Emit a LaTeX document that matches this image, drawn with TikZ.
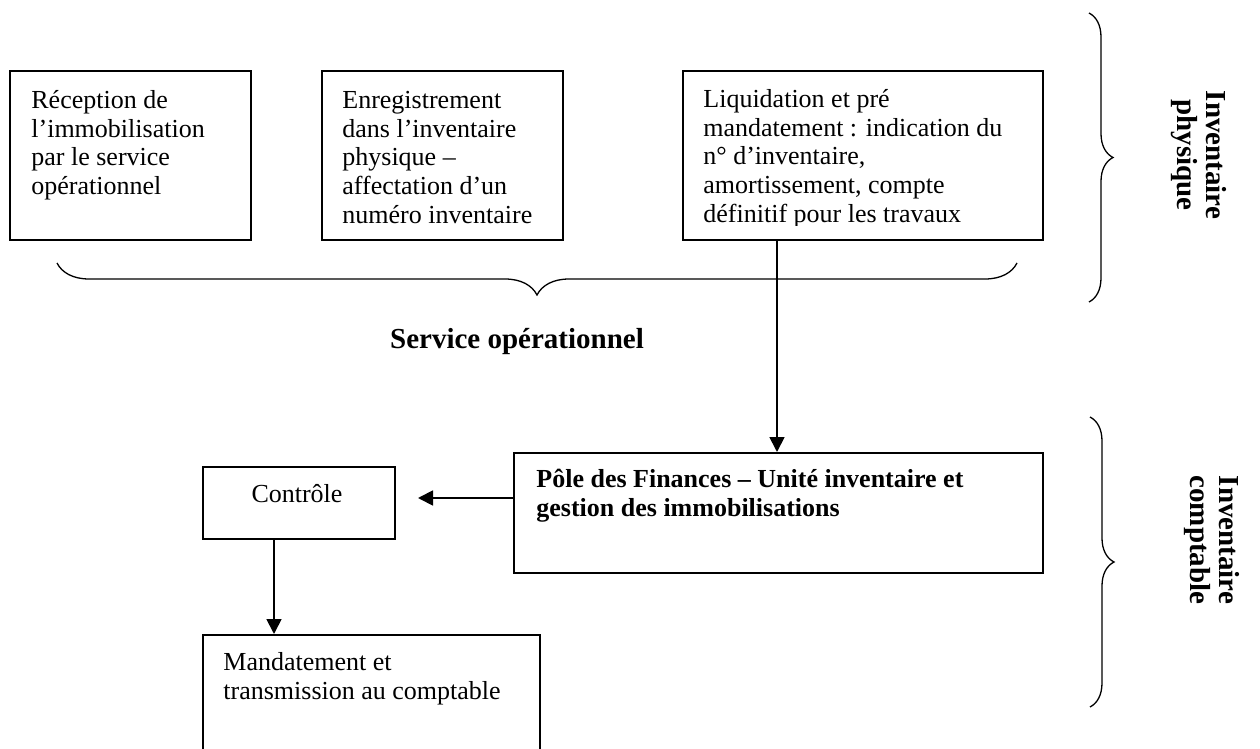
\documentclass[tikz,border=0pt]{standalone}
\usepackage{fontspec}
\setmainfont{Liberation Serif}
\usetikzlibrary{arrows.meta,decorations.pathreplacing}

\tikzset{
  panel/.style 2 args={draw, line width=0.85pt, inner sep=0pt, anchor=north west,
    minimum width=#1, minimum height=#2},
  boxtext/.style={anchor=north west, inner sep=0pt, align=left,
    font=\fontsize{13}{14.4}\selectfont},
  boldtext/.style={boxtext, font=\fontsize{13}{14.4}\selectfont\bfseries},
  plain/.style={inner sep=0pt, font=\fontsize{13}{14.4}\selectfont},
  heading/.style={inner sep=0pt, font=\fontsize{14.5}{14.6}\selectfont\bfseries},
  sidelabel/.style={heading, rotate=-90, align=center},
  curly/.style 2 args={decorate, line width=0.65pt,
    decoration={brace, amplitude=#1, aspect=#2}},
  flow/.style={line width=0.9pt, -{Triangle[length=7.5pt,width=7.5pt]}}
}

\begin{document}
\begin{tikzpicture}[x=0.5pt,y=-0.5pt]
\useasboundingbox (0,0) rectangle (1260,749);
\clip (0,0) rectangle (1260,749);

% --- service opérationnel: three steps ---
\node[panel={120.5pt}{84.5pt}] (recep) at (9,70) {};
\node[boxtext] (receptxt) at (31,87.8)
  {\strut R\'eception de\\l'immobilisation\\par le service\\op\'erationnel};

\node[panel={120.5pt}{84.5pt}] (enreg) at (321,70) {};
\node[boxtext] (enregtxt) at (342,87.8)
  {\strut Enregistrement\\dans l'inventaire\\physique --\\affectation d'un\\num\'ero inventaire};

\node[panel={180pt}{84.5pt}] (liquid) at (682,70) {};
\begin{scope}
  % the last line runs past the text area of the box and is cut off
  \clip (682,70) rectangle (1042,226);
  \node[boxtext] (liquidtxt) at (703,86.8)
    {\strut Liquidation et pr\'e\\mandatement : indication du\\n\textdegree{} d'inventaire,\\amortissement, compte\\d\'efinitif pour les travaux};
\end{scope}

% brace grouping the three steps
\draw[curly={16pt}{0.5}] (1017,263) -- (57,263);
\node[heading, anchor=base] (servop) at (517,348) {Service op\'erationnel};

% braces and side labels
\draw[curly={12pt}{0.5}] (1089,13) -- (1089,302);
\node[sidelabel] (invphys) at (1199,155) {Inventaire\\physique};

\draw[curly={12pt}{0.5}] (1090,417) -- (1090,707);
\node[sidelabel] (invcompt) at (1212,540) {Inventaire\\comptable};

% --- inventaire comptable ---
\node[panel={264.5pt}{60pt}] (pole) at (513,452) {};
\node[boldtext] (poletxt) at (536,466.8)
  {\strut P\^ole des Finances -- Unit\'e inventaire et\\gestion des immobilisations};

\node[panel={96pt}{36pt}] (ctrl) at (202,466) {};
\node[plain, anchor=base] (ctrltxt) at (297,502) {Contr\^ole};

\node[panel={168.5pt}{80pt}] (mand) at (202,634) {};
\node[boxtext] (mandtxt) at (223,649.8)
  {\strut Mandatement et\\transmission au comptable};

% --- connectors ---
\coordinate (drop) at (777,0);
\draw[flow] (liquid.south -| drop) -- (pole.north -| drop);

\coordinate (ctip) at (418,498);
\draw[flow] (pole.west |- ctip) -- (ctip);

\coordinate (down) at (274,0);
\draw[flow] (ctrl.south -| down) -- (mand.north -| down);
\end{tikzpicture}
\end{document}
